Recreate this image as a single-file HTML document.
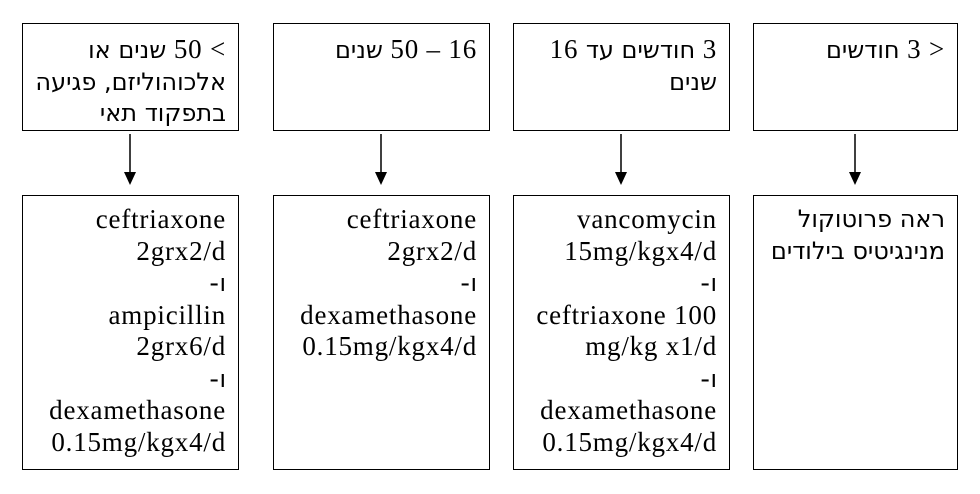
<!DOCTYPE html>
<html><head><meta charset="utf-8"><style>
body{margin:0;width:980px;height:494px;background:#fff;position:relative;overflow:hidden;font-family:"Liberation Serif","DejaVu Serif",serif;color:#000}
.b{position:absolute;border:1.5px solid #000;box-sizing:border-box;text-align:right;font-size:27px;letter-spacing:0.8px;line-height:31.5px;padding-right:12px;white-space:nowrap}
.t{top:23px;height:108px;padding-top:10px}
.d{top:195px;height:275px;padding-top:8px}
.c1{left:22px;width:217px}.c2{left:273px;width:217px}.c3{left:513px;width:217px}.c4{left:753px;width:205px}
.h{font-family:"DejaVu Sans",sans-serif;font-size:24px;letter-spacing:0}
.o{unicode-bidi:bidi-override;direction:ltr}
</style></head><body>
<div class="b t c1"><div><span class="h" dir="rtl">שנים או</span> 50 &lt;</div><div class="h" dir="rtl">אלכוהוליזם, פגיעה</div><div class="h" dir="rtl">בתפקוד תאי</div></div>
<div class="b t c2"><div><span class="h" dir="rtl">שנים</span> 50 – 16</div></div>
<div class="b t c3"><div>16 <bdi class="h">עד</bdi> <bdi class="h">חודשים</bdi> 3</div><div class="h" dir="rtl">שנים</div></div>
<div class="b t c4"><div><span class="h" dir="rtl">חודשים</span> 3 &gt;</div></div>

<div class="b d c1"><div>ceftriaxone</div><div>2grx2/d</div><div class="o">-<span class="h">ו</span></div><div>ampicillin</div><div>2grx6/d</div><div class="o">-<span class="h">ו</span></div><div>dexamethasone</div><div>0.15mg/kgx4/d</div></div>
<div class="b d c2"><div>ceftriaxone</div><div>2grx2/d</div><div class="o">-<span class="h">ו</span></div><div>dexamethasone</div><div>0.15mg/kgx4/d</div></div>
<div class="b d c3"><div>vancomycin</div><div>15mg/kgx4/d</div><div class="o">-<span class="h">ו</span></div><div>ceftriaxone 100</div><div>mg/kg x1/d</div><div class="o">-<span class="h">ו</span></div><div>dexamethasone</div><div>0.15mg/kgx4/d</div></div>
<div class="b d c4"><div class="h" dir="rtl">ראה פרוטוקול</div><div class="h" dir="rtl">מנינגיטיס בילודים</div></div>

<svg width="980" height="494" style="position:absolute;left:0;top:0">
<g stroke="#000" stroke-width="1.5">
<line x1="130" y1="134" x2="130" y2="174"/>
<line x1="381" y1="134" x2="381" y2="174"/>
<line x1="621" y1="134" x2="621" y2="174"/>
<line x1="855" y1="134" x2="855" y2="174"/>
</g>
<g fill="#000">
<polygon points="124,172 136,172 130,185"/>
<polygon points="375,172 387,172 381,185"/>
<polygon points="615,172 627,172 621,185"/>
<polygon points="849,172 861,172 855,185"/>
</g>
</svg>
</body></html>
